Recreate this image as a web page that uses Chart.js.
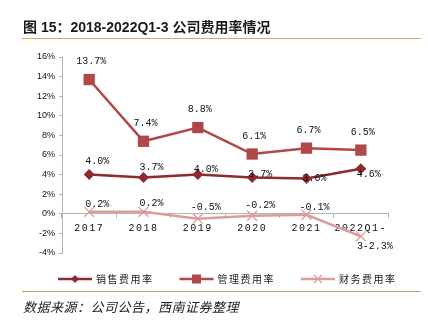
<!DOCTYPE html>
<html>
<head>
<meta charset="utf-8">
<script src="https://cdn.jsdelivr.net/npm/chart.js@4.4.1/dist/chart.umd.min.js"></script>
<style>
  html,body{margin:0;padding:0;background:#fff;}
  #wrap{position:relative;width:428px;height:328px;overflow:hidden;}
  #c{position:absolute;left:0;top:0;}
  .title{position:absolute;left:23px;top:16px;font:bold 14px "Liberation Sans","Noto Sans CJK SC",sans-serif;color:#1a1a1a;white-space:nowrap;}
  .rule{position:absolute;left:22px;width:399px;height:1px;}
  .src{position:absolute;left:23px;top:297px;font:italic 13px "Noto Sans CJK SC",sans-serif;color:#222;letter-spacing:0.5px;white-space:nowrap;}
</style>
</head>
<body>
<div id="wrap">
  <canvas id="c" width="428" height="328"></canvas>
  <div class="title">图 15：2018-2022Q1-3 公司费用率情况</div>
  <div class="rule" style="top:38px;background:#e3a553;"></div>
  <div class="rule" style="top:291px;background:#c9a46c;"></div>
  <div class="src">数据来源：公司公告，西南证券整理</div>
</div>
<script>
const years=["2017","2018","2019","2020","2021",["2022Q1-","3"]];
const sales=[4.0,3.7,4.0,3.7,3.6,4.6];
const admin=[13.7,7.4,8.8,6.1,6.7,6.5];
const finance=[0.2,0.2,-0.5,-0.2,-0.1,-2.3];
const seriesNames=["销售费用率","管理费用率","财务费用率"];

// label nudges (px) so the numbers sit where the original puts them
const salesDy=[-13,-10,-5,-3,0,6];
const financeDy=[-7,-8,-11,-10,-7,10];

const pointLabels={
  id:"pointLabels",
  afterDatasetsDraw(chart){
    const ctx=chart.ctx;
    ctx.save();
    ctx.font='10px "Liberation Mono", monospace';
    ctx.fillStyle="#111";
    ctx.textAlign="center";ctx.textBaseline="middle";
    ctx.letterSpacing="0px";
    chart.data.datasets.forEach((ds,di)=>{
      const meta=chart.getDatasetMeta(di);
      meta.data.forEach((pt,i)=>{
        const dx=typeof ds.labelDx==="function"?ds.labelDx(i):ds.labelDx;
        const dy=Array.isArray(ds.labelDy)?ds.labelDy[i]:ds.labelDy;
        ctx.fillText(ds.data[i].toFixed(1)+"%",pt.x+dx,pt.y+dy);
      });
    });
    ctx.restore();
  }
};

const lineLegend={
  id:"lineLegend",
  afterDraw(chart){
    const ctx=chart.ctx;
    const y=279;
    ctx.save();
    chart.data.datasets.forEach((ds,i)=>{
      const x0=58+i*121.5;
      ctx.strokeStyle=ds.borderColor;ctx.lineWidth=2.5;
      ctx.beginPath();ctx.moveTo(x0,y);ctx.lineTo(x0+34,y);ctx.stroke();
      const mx=x0+17;
      ctx.fillStyle=ds.borderColor;
      if(ds.pointStyle==="rectRot"){
        ctx.beginPath();ctx.moveTo(mx-4,y);ctx.lineTo(mx,y-4);ctx.lineTo(mx+4,y);ctx.lineTo(mx,y+4);ctx.closePath();ctx.fill();
      }else if(ds.pointStyle==="rect"){
        ctx.fillRect(mx-4.5,y-4.5,9,9);
      }else{
        ctx.lineWidth=1.2;
        ctx.beginPath();ctx.moveTo(mx-4,y-4);ctx.lineTo(mx+4,y+4);ctx.moveTo(mx+4,y-4);ctx.lineTo(mx-4,y+4);ctx.stroke();
      }
      ctx.fillStyle="#222";
      ctx.font='10px "Noto Sans CJK SC", sans-serif';
      ctx.letterSpacing="1.5px";
      ctx.textAlign="left";ctx.textBaseline="middle";
      ctx.fillText(ds.label,x0+38,y);
      ctx.letterSpacing="0px";
    });
    ctx.restore();
  }
};

const chart=new Chart(document.getElementById("c"),{
  type:"line",
  data:{
    labels:years,
    datasets:[
      {label:seriesNames[0],data:sales,borderColor:"#8e2b2f",backgroundColor:"#8e2b2f",borderWidth:2.5,
       pointStyle:"rectRot",pointRadius:5.5,pointHoverRadius:5.5,pointBorderWidth:0,
       labelDx:()=>8,labelDy:salesDy},
      {label:seriesNames[1],data:admin,borderColor:"#b0484a",backgroundColor:"#b0484a",borderWidth:2.5,
       pointStyle:"rect",pointRadius:8,pointHoverRadius:8,pointBorderWidth:0,
       labelDx:()=>2,labelDy:-18},
      {label:seriesNames[2],data:finance,borderColor:"#dc9c9d",backgroundColor:"#dc9c9d",borderWidth:2.5,
       pointStyle:"crossRot",pointRadius:7,pointHoverRadius:7,pointBorderWidth:1.3,
       labelDx:i=>i===5?17:8,labelDy:financeDy}
    ]
  },
  options:{
    responsive:false,
    animation:false,
    events:[],
    layout:{padding:{left:0,top:57,right:40,bottom:75}},
    plugins:{legend:{display:false},tooltip:{enabled:false}},
    scales:{
      x:{
        position:{y:0},
        offset:true,
        grid:{drawOnChartArea:false,drawTicks:true,tickLength:4,color:"#b5b5b5",offset:true},
        border:{color:"#b5b5b5",width:1},
        ticks:{font:{family:"Liberation Mono",size:10,lineHeight:1.8},color:"#111",padding:2,maxRotation:0,autoSkip:false}
      },
      y:{
        min:-4,max:16,
        afterFit(s){s.width=62;},
        grid:{display:true,drawOnChartArea:false,drawTicks:true,tickLength:3,color:"#b5b5b5"},
        border:{color:"#b5b5b5",width:1},
        ticks:{stepSize:2,font:{family:"Liberation Sans",size:9},color:"#111",padding:4,callback:v=>v+"%"}
      }
    }
  },
  plugins:[pointLabels,lineLegend]
});

// spaced-out year labels like the original
const xs=chart.scales.x;
const origDrawLabels=xs.drawLabels.bind(xs);
xs.drawLabels=function(area){
  this.ctx.save();this.ctx.letterSpacing="1.5px";origDrawLabels(area);this.ctx.restore();
};
chart.draw();
</script>
</body>
</html>
